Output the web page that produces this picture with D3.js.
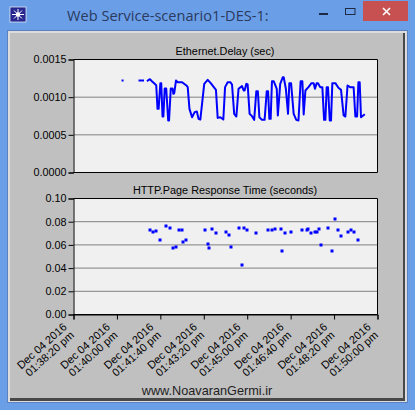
<!DOCTYPE html>
<html><head><meta charset="utf-8">
<script src="https://cdnjs.cloudflare.com/ajax/libs/d3/7.8.5/d3.min.js"></script>
<style>html,body{margin:0;padding:0;background:#6a9fe8;overflow:hidden}svg{display:block}text{font-family:"Liberation Sans",Arial,sans-serif}</style>
</head><body><svg id="c" width="415" height="410"></svg>
<script>
const windowTitle = "Web Service-scenario1-DES-1:";
const footerText = "www.NoavaranGermi.ir";
const delayTitle = "Ethernet.Delay (sec)";
const pageTitle = "HTTP.Page Response Time (seconds)";
const tickClock = ["01:38:20 pm","01:40:00 pm","01:41:40 pm","01:43:20 pm","01:45:00 pm","01:46:40 pm","01:48:20 pm","01:50:00 pm"];
const tickSeconds = [0,100,200,300,400,500,600,700];
const delayTicks = [0,0.0005,0.001,0.0015];
const pageTicks = [0,0.02,0.04,0.06,0.08,0.1];
// seconds after 01:38:20 pm; null marks a gap in the recorded line
const delayTimes = [113,null,152,160,null,171,176,180.5,187,190.5,193.5,196,200,202,205,207,210,213.5,218,220,224,228,230,232,236,240,250,260,263,267,273,279,284,288,292,296,301,309,316,328,332,338,345,349,355,361,365,370,375,380,388,392,394,398,401,405.5,411,416,421,424.5,428,434,440,445,448,451,454,457,461,468,470.5,476,482,484,489,494,497,501,507,513,518,523,527,530,534,541,548,553,556,560,563,568,573,577,580,583,586,590,593,596,603,610,616,622,626,631,637,645,649,653,656,659,662,669];
const delayValues = [1221,null,1221,1221,null,1221,1239,1212,1177,1159,845,845,1186,1186,743,743,1115,1115,690,690,1115,1115,1044,1053,1221,1199,1199,1155,1133,845,734,801,810,712,703,911,1177,1230,1186,1097,725,734,703,1133,1199,1199,1168,779,743,1111,1146,1088,1088,1177,1168,779,748,699,1080,1080,734,699,699,1080,1080,712,712,1212,1212,1111,757,1177,1265,1265,1111,779,1186,1186,779,699,690,1212,1212,770,1088,1133,1186,1186,1111,1186,1186,1133,1133,699,699,1133,1133,690,690,1186,1186,1124,1097,757,743,1155,1133,1133,743,743,1199,1199,734,765];
const pageTimes = [175,182,189,200,212,223,230,235,242,249,253,260,302,309,313,320,327,350,357,362,380,387,392,398.5,421,447,458,465,477,481,488,500,525,537,541,548,555,560,566,571,585,596,601,608,615,631,638,645,656];
const pageValues = [.0730,.0713,.0722,.0644,.0765,.0748,.0575,.0584,.0730,.0730,.0627,.0644,.0730,.0610,.0575,.0739,.0704,.0713,.0687,.0584,.0748,.0429,.0748,.0730,.0704,.0730,.0730,.0739,.0739,.0550,.0704,.0713,.0730,.0730,.0739,.0704,.0713,.0713,.0739,.0601,.0748,.0550,.0825,.0730,.0678,.0713,.0730,.0713,.0644];

const svg = d3.select("#c");
const plotBg="#f0f0f0", grid="#808080", blue="#0000ff";
// window frame
svg.append("rect").attr("width",415).attr("height",410).attr("fill","#6a9fe8");
svg.append("rect").attr("x",363).attr("y",1).attr("width",45).attr("height",20).attr("fill","#c75050");
svg.append("rect").attr("x",10).attr("y",7).attr("width",16).attr("height",15).attr("fill","#27278f").attr("stroke","#dfe6f5").attr("stroke-width",0.8);
const star=svg.append("g").attr("stroke","#fff").attr("stroke-width",1);
[[12,14.5,24,14.5],[18,9,18,20],[14,10.5,22,18.5],[22,10.5,14,18.5]].forEach(l=>star.append("line").attr("x1",l[0]).attr("y1",l[1]).attr("x2",l[2]).attr("y2",l[3]));
svg.append("circle").attr("cx",18).attr("cy",14.5).attr("r",2.2).attr("fill","#fff");
svg.append("text").text(windowTitle).attr("x",67).attr("y",20.5).attr("fill","#2b3a5e").style("font-family","'Open Sans'").style("font-size","14.6px");
svg.append("rect").attr("x",319).attr("y",13).attr("width",9).attr("height",2).attr("fill","#1c2a44");
svg.append("rect").attr("x",345.5).attr("y",8.5).attr("width",9.5).attr("height",6).attr("fill","none").attr("stroke","#1c2a44").attr("stroke-width",1);
svg.append("path").attr("d","M383 8L390 15M390 8L383 15").attr("stroke","#fff").attr("stroke-width",1.6);
svg.append("rect").attr("x",7).attr("y",30).attr("width",401).attr("height",373).attr("fill","#5a82c0");
svg.append("rect").attr("x",8).attr("y",31).attr("width",399).attr("height",371).attr("fill","#dcdcdc");
svg.append("rect").attr("x",10).attr("y",33).attr("width",395).attr("height",368).attr("fill","#484848");
svg.append("rect").attr("x",10).attr("y",33).attr("width",393).attr("height",365).attr("fill","#c0c0c0");

const x = d3.scaleLinear().domain([0,700]).range([73.5,377.5]);
const yD = d3.scaleLinear().domain([0,0.0015]).range([172.5,59.5]);
const yP = d3.scaleLinear().domain([0,0.1]).range([314.5,198.5]);

function frame(y, ticks, fmt){
  const g=svg.append("g");
  g.append("rect").attr("x",73.5).attr("y",y.range()[1]).attr("width",304).attr("height",y.range()[0]-y.range()[1]).attr("fill",plotBg);
  g.selectAll("line.g").data(ticks.slice(1,-1)).join("line").attr("x1",73.5).attr("x2",377.5).attr("y1",d=>y(d)).attr("y2",d=>y(d)).attr("stroke",grid).attr("stroke-width",1);
  const ax=g.append("g").attr("transform","translate(73.5,0)").call(d3.axisLeft(y).tickValues(ticks).tickFormat(fmt).tickSize(5).tickPadding(2));
  ax.selectAll("text").style("font-size","10.8px").style("font-family","'Liberation Sans'").attr("fill","#000");
  ax.selectAll("line,path").attr("stroke","#000");
  g.append("line").attr("x1",377.5).attr("x2",377.5).attr("y1",y.range()[0]).attr("y2",y.range()[1]).attr("stroke","#000");
  g.append("line").attr("x1",73.5).attr("x2",377.5).attr("y1",y.range()[1]).attr("y2",y.range()[1]).attr("stroke","#000");
  g.append("line").attr("x1",73.5).attr("x2",377.5).attr("y1",y.range()[0]).attr("y2",y.range()[0]).attr("stroke","#000");
  return g;
}
frame(yD,delayTicks,d3.format(".4f"));
frame(yP,pageTicks,d3.format(".2f"));

const titleStyle=s=>s.attr("text-anchor","middle").attr("fill","#000").style("font-size","10.85px");
svg.append("text").text(delayTitle).attr("x",225).attr("y",55).call(titleStyle);
svg.append("text").text(pageTitle).attr("x",225).attr("y",194).call(titleStyle);

const delayData = delayTimes.map((t,i)=>({t,v:delayValues[i]}));
svg.append("path").attr("fill","none").attr("stroke",blue).attr("stroke-width",2).attr("stroke-linejoin","round").attr("stroke-linecap","square")
  .attr("d",d3.line().defined(d=>d.t!==null).x(d=>x(d.t)).y(d=>yD(d.v*1e-6))(delayData));
svg.selectAll("rect.pt").data(pageTimes.map((t,i)=>({t,v:pageValues[i]}))).join("rect").attr("class","pt")
  .attr("x",d=>Math.round(x(d.t))-1.5).attr("y",d=>Math.round(yP(d.v))-1.5).attr("width",3).attr("height",3).attr("fill",blue);

// x axis
const xa=svg.append("g").attr("transform","translate(0,314.5)").call(d3.axisBottom(x).tickValues(tickSeconds).tickSize(5).tickFormat(""));
xa.selectAll("line,path").attr("stroke","#000");
tickSeconds.forEach((s,i)=>{
  const t=svg.append("text").attr("text-anchor","end").attr("fill","#000").style("font-size","11px")
    .attr("transform",`translate(${x(s)-6},${328}) rotate(-42)`);
  t.append("tspan").attr("x",0).attr("y",0).text("Dec 04 2016");
  t.append("tspan").attr("x",0).attr("y",11).text(tickClock[i]);
});
svg.append("text").text(footerText).attr("x",207).attr("y",395).attr("text-anchor","middle").attr("fill","#222").style("font-size","12.7px");
</script></body></html>
